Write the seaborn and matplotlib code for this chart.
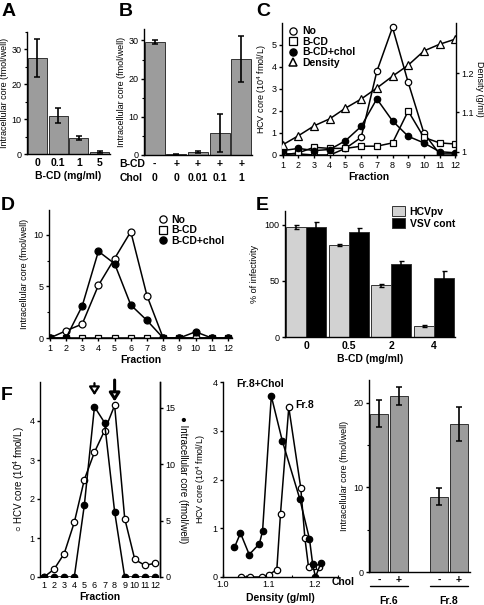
import numpy as np
import pandas as pd
import matplotlib
matplotlib.use("Agg")
import matplotlib.pyplot as plt
import seaborn as sns
from matplotlib.lines import Line2D
from matplotlib.patches import Patch
from matplotlib.ticker import MultipleLocator

# ---- data ----
# A
a_dose = ["0", "0.1", "1", "5"]
a_core = [27.5, 11.0, 4.6, 0.6]
a_err = [5.5, 2.2, 0.6, 0.3]

# B
b_bcd = ["-", "+", "+", "+", "+"]
b_chol = ["0", "0", "0.01", "0.1", "1"]
b_core = [29.5, 0.2, 0.8, 5.8, 25.2]
b_err = [0.5, 0.1, 0.3, 5.0, 6.0]

# C
fractions = list(range(1, 13))
c_no = [0.05, 0.05, 0.0, 0.0, 0.3, 0.8, 3.8, 5.8, 3.3, 1.0, 0.05, 0.05]
c_bcd = [0.0, 0.1, 0.35, 0.3, 0.3, 0.4, 0.4, 0.55, 2.0, 0.8, 0.55, 0.5]
c_chol = [0.2, 0.3, 0.2, 0.25, 0.65, 1.3, 2.55, 1.55, 0.85, 0.55, 0.15, 0.1]
c_density = [1.018, 1.041, 1.066, 1.084, 1.111, 1.134, 1.162, 1.192, 1.220, 1.256, 1.273, 1.286]

# D
d_no = [0, 0.7, 1.35, 5.1, 7.7, 10.3, 4.1, 0, 0, 0, 0, 0]
d_bcd = [0] * 12
d_chol = [0, 0, 3.1, 8.4, 7.2, 3.2, 1.7, 0, 0, 0.6, 0, 0]

# E
e_dose = ["0", "0.5", "2", "4"]
e_hcv = [98, 82, 46, 10]
e_hcv_err = [2, 1, 1.5, 1]
e_vsv = [98, 93.5, 65.5, 53]
e_vsv_err = [5, 4, 2, 6]

# F left
f_no = [0, 0.2, 0.6, 1.4, 2.5, 3.2, 3.75, 4.4, 1.5, 0.45, 0.3, 0.35]
f_cell = [0, 0, 0, 0, 6.4, 15.1, 13.7, 5.8, 0, 0, 0, 0]

# F middle
chol_density = [1.025, 1.038, 1.057, 1.079, 1.086, 1.105, 1.129, 1.167, 1.188, 1.195, 1.201, 1.213]
chol_core = [0.61, 0.90, 0.46, 0.68, 0.94, 3.71, 2.79, 1.60, 0.78, 0.26, 0.0, 0.29]
fr8_density = [1.040, 1.058, 1.084, 1.100, 1.117, 1.125, 1.143, 1.169, 1.178, 1.186, 1.198, 1.209]
fr8_core = [0.0, 0.0, 0.0, 0.05, 0.15, 1.3, 3.48, 1.83, 0.8, 0.2, 0.22, 0.2]

# F right
fr_pos = [0, 1, 3, 4]
fr_sign = ["-", "+", "-", "+"]
fr_core = [18.7, 20.8, 8.9, 17.5]
fr_err = [1.6, 1.1, 1.0, 2.0]

# ---- style ----
sns.set_style("ticks")
plt.rcParams['font.family'] = ['Liberation Sans', 'DejaVu Sans']
plt.rcParams.update({
    'font.size': 7, 'axes.linewidth': 1.0, 'axes.edgecolor': 'black',
    'text.color': 'black', 'axes.labelcolor': 'black',
    'xtick.color': 'black', 'ytick.color': 'black',
    'xtick.major.size': 2.5, 'ytick.major.size': 2.5,
    'xtick.minor.size': 1.8, 'ytick.minor.size': 1.8,
    'xtick.major.width': 1.0, 'ytick.major.width': 1.0,
    'ytick.minor.width': 0.8, 'xtick.minor.width': 0.8,
    'xtick.labelsize': 6.5, 'ytick.labelsize': 6.5,
    'xtick.major.pad': 2, 'ytick.major.pad': 1.5,
    'axes.labelsize': 6.5,
    'mathtext.fontset': 'custom', 'mathtext.rm': 'Liberation Sans',
})

W, H = 484, 605
fig = plt.figure(figsize=(4.84, 6.05), dpi=100)


def box(l, t, r, b):
    return [l / W, 1 - b / H, (r - l) / W, (b - t) / H]


BAR_GREY = '#9c9c9c'
line_kw = dict(color='black', lw=1.1, sort=False, mew=0.9, mec='black')
MS = 4.6


def bars(ax, cats, vals, errs):
    df = pd.DataFrame({'cat': cats, 'val': vals})
    sns.barplot(data=df, x='cat', y='val', color=BAR_GREY, saturation=1, width=0.92,
                errorbar=None, edgecolor='#333333', linewidth=0.7, ax=ax)
    ax.errorbar(range(len(vals)), vals, yerr=errs, fmt='none', ecolor='black',
                elinewidth=1.2, capsize=2, capthick=1.1)
    ax.set_xlim(-0.5, len(vals) - 0.5)
    ax.tick_params(axis='x', length=0, pad=3)
    for t in ax.get_xticklabels():
        t.set_fontweight('bold')
        t.set_fontsize(7.5)
    sns.despine(ax=ax)


# ---- A ----
ax = fig.add_axes(box(27, 32, 110, 154))
bars(ax, a_dose, a_core, a_err)
ax.set_ylim(0, 35)
ax.yaxis.set_major_locator(MultipleLocator(10))
ax.yaxis.set_minor_locator(MultipleLocator(5))
ax.set_xlabel('B-CD (mg/ml)', fontweight='bold', fontsize=7.5, labelpad=2)
ax.set_ylabel('Intracellular core (fmol/well)', labelpad=2)

# ---- B ----
ax = fig.add_axes(box(144, 29, 252, 155))
bars(ax, [f"{p}\n{c}" for p, c in zip(b_bcd, b_chol)], b_core, b_err)
for t in ax.get_xticklabels():
    t.set_linespacing(1.45)
ax.set_ylim(0, 33)
ax.yaxis.set_major_locator(MultipleLocator(10))
ax.yaxis.set_minor_locator(MultipleLocator(5))
ax.set_xlabel('')
ax.set_ylabel('Intracellular core (fmol/well)', labelpad=2)
ax.text(-0.23, -0.075, 'B-CD', transform=ax.transAxes, fontweight='bold', fontsize=7.5, va='center')
ax.text(-0.23, -0.18, 'Chol', transform=ax.transAxes, fontweight='bold', fontsize=7.5, va='center')

# ---- C ----
ax = fig.add_axes(box(282, 23, 456, 155))
sns.lineplot(x=fractions, y=c_no, marker='o', mfc='white', ms=MS, ax=ax, **line_kw)
sns.lineplot(x=fractions, y=c_bcd, marker='s', mfc='white', ms=MS, ax=ax, **line_kw)
sns.lineplot(x=fractions, y=c_chol, marker='o', mfc='black', ms=MS, ax=ax, **line_kw)
ax.set_xlim(0.95, 12.05)
ax.set_ylim(0, 6)
ax.set_xticks(fractions)
ax.set_yticks(range(6))
ax.set_xlabel('Fraction', fontweight='bold', fontsize=7.5, labelpad=1)
ax.set_ylabel('HCV core (10$^4$ fmol/L)', labelpad=2)
ax2 = ax.twinx()
sns.lineplot(x=fractions, y=c_density, marker='^', mfc='white', ms=5.2, ax=ax2, **line_kw)
ax2.set_ylim(0.992, 1.327)
ax2.set_yticks([1.0, 1.1, 1.2], ['1', '1.1', '1.2'])
ax2.set_ylabel('Density (g/ml)', rotation=270, labelpad=7, fontsize=6.5)
for a in (ax, ax2):
    a.spines['top'].set_visible(False)
ax.spines['right'].set_visible(False)
ax2.spines['left'].set_visible(False)
ax2.spines['bottom'].set_visible(False)
handles = [
    Line2D([], [], ls='none', marker='o', mfc='white', mec='black', ms=5.2, mew=0.9),
    Line2D([], [], ls='none', marker='s', mfc='white', mec='black', ms=5.2, mew=0.9),
    Line2D([], [], ls='none', marker='o', mfc='black', mec='black', ms=5.2, mew=0.9),
    Line2D([], [], ls='none', marker='^', mfc='white', mec='black', ms=6, mew=1.1),
]
ax2.legend(handles, ['No', 'B-CD', 'B-CD+chol', 'Density'], loc='upper left',
           bbox_to_anchor=(0.0, 1.03), frameon=False, handlelength=0.8,
           handletextpad=0.4, labelspacing=0.05, borderpad=0.2,
           prop={'weight': 'bold', 'size': 7.5})

# ---- D ----
ax = fig.add_axes(box(49, 210, 232, 338))
sns.lineplot(x=fractions, y=d_bcd, marker='s', mfc='white', ms=MS, ax=ax, **line_kw)
sns.lineplot(x=fractions, y=d_no, marker='o', mfc='white', ms=5, ax=ax, **line_kw)
sns.lineplot(x=fractions, y=d_chol, marker='o', mfc='black', ms=5, ax=ax, **line_kw)
ax.set_xlim(0.95, 12.25)
ax.set_ylim(0, 12.4)
ax.set_xticks(fractions)
ax.yaxis.set_major_locator(MultipleLocator(5))
ax.yaxis.set_minor_locator(MultipleLocator(2.5))
ax.set_xlabel('Fraction', fontweight='bold', fontsize=7.5, labelpad=1)
ax.set_ylabel('Intracellular core (fmol/well)', labelpad=3)
sns.despine(ax=ax)
ax.legend(handles[:3], ['No', 'B-CD', 'B-CD+chol'], loc='upper right',
          bbox_to_anchor=(1.0, 1.02), frameon=False, handlelength=0.8,
          handletextpad=0.4, labelspacing=0.05, borderpad=0.2,
          prop={'weight': 'bold', 'size': 7.5})

# ---- E ----
ax = fig.add_axes(box(285, 211, 455, 337))
e_df = pd.DataFrame({
    'dose': e_dose * 2,
    'val': e_hcv + e_vsv,
    'series': ['HCVpv'] * 4 + ['VSV cont'] * 4,
})
sns.barplot(data=e_df, x='dose', y='val', hue='series', palette={'HCVpv': '#d2d2d2', 'VSV cont': 'black'},
            saturation=1, width=0.95, errorbar=None, edgecolor='#333333', linewidth=0.7, ax=ax)
conts = list(ax.containers)
for cont, errs in zip(conts, [e_hcv_err, e_vsv_err]):
    xs = [b.get_x() + b.get_width() / 2 for b in cont]
    ys = [b.get_height() for b in cont]
    ax.errorbar(xs, ys, yerr=errs, fmt='none', ecolor='black', elinewidth=1.1, capsize=1.8, capthick=1.0)
ax.set_xlim(-0.5, 3.5)
ax.set_ylim(0, 112.5)
ax.yaxis.set_major_locator(MultipleLocator(50))
ax.tick_params(axis='x', length=0, pad=3)
for t in ax.get_xticklabels():
    t.set_fontweight('bold')
    t.set_fontsize(7.5)
ax.set_xlabel('B-CD (mg/ml)', fontweight='bold', fontsize=7.5, labelpad=2)
ax.set_ylabel('% of infectivity', labelpad=4)
sns.despine(ax=ax)
ax.legend([Patch(fc='#d2d2d2', ec='#333333', lw=0.7), Patch(fc='black', ec='#333333', lw=0.7)],
          ['HCVpv', 'VSV cont'], loc='upper right', bbox_to_anchor=(1.03, 1.08), frameon=False,
          handlelength=1.3, handleheight=1.1, handletextpad=0.4, labelspacing=0.15, borderpad=0,
          prop={'weight': 'bold', 'size': 7.5})

# ---- F left ----
ax = fig.add_axes(box(40, 382, 160, 577))
sns.lineplot(x=fractions, y=f_no, marker='o', mfc='white', ms=MS, ax=ax, **line_kw)
ax.set_xlim(0.6, 12.5)
ax.set_ylim(0, 5)
ax.set_xticks(fractions)
ax.tick_params(axis='x', length=0, pad=3)
ax.set_yticks(range(5))
ax.set_xlabel('Fraction', fontweight='bold', fontsize=7.5, labelpad=1)
ax.set_ylabel('○ HCV core (10$^4$ fmol/L)', labelpad=2, fontsize=7)
ax.spines['top'].set_visible(False)
ax.spines['bottom'].set_visible(False)
axr = ax.twinx()
sns.lineplot(x=fractions, y=f_cell, marker='o', mfc='black', ms=MS, ax=axr, **line_kw)
axr.set_ylim(0, 17.3)
axr.yaxis.set_major_locator(MultipleLocator(5))
axr.set_ylabel('● Intracellular core (fmol/well)', rotation=270, labelpad=9, fontsize=7)
for s in ('top', 'bottom', 'left'):
    axr.spines[s].set_visible(False)
# arrows marking fractions 6 and 8
ax.annotate('', xy=(6, 4.66), xytext=(6, 4.97), annotation_clip=False,
            arrowprops=dict(arrowstyle='-|>,head_length=0.7,head_width=0.45', fc='white', ec='black',
                            lw=1.6, shrinkA=0, shrinkB=0))
ax.annotate('', xy=(8, 4.5), xytext=(8, 5.05), annotation_clip=False,
            arrowprops=dict(arrowstyle='-|>,head_length=0.7,head_width=0.45', fc='white', ec='black',
                            lw=2.2, shrinkA=0, shrinkB=0))

# ---- F middle ----
ax = fig.add_axes(box(223, 382, 338, 577))
sns.lineplot(x=fr8_density, y=fr8_core, marker='o', mfc='white', ms=MS, ax=ax, **line_kw)
sns.lineplot(x=chol_density, y=chol_core, marker='o', mfc='black', ms=MS, ax=ax, **line_kw)
ax.set_xlim(1.0, 1.25)
ax.set_ylim(0, 4)
ax.set_xticks([1.0, 1.1, 1.2])
ax.xaxis.set_minor_locator(MultipleLocator(0.05))
ax.tick_params(axis='x', which='both', direction='in')
ax.set_yticks(range(5))
ax.set_xlabel('Density (g/ml)', fontweight='bold', fontsize=7.5, labelpad=3)
ax.set_ylabel('HCV core (10$^4$ fmol/L)', labelpad=3)
sns.despine(ax=ax)
ax.text(1.08, 3.95, 'Fr.8+Chol', fontweight='bold', fontsize=7.5, ha='center', va='center')
ax.text(1.156, 3.53, 'Fr.8', fontweight='bold', fontsize=7.5, ha='left', va='center')

# ---- F right ----
ax = fig.add_axes(box(369, 380, 470, 572))
sns.barplot(x=fr_pos, y=fr_core, native_scale=True, color=BAR_GREY, saturation=1, width=0.88,
            errorbar=None, edgecolor='#333333', linewidth=0.7, ax=ax)
ax.errorbar(fr_pos, fr_core, yerr=fr_err, fmt='none', ecolor='black', elinewidth=1.2, capsize=2, capthick=1.1)
ax.set_xlim(-0.5, 4.55)
ax.set_ylim(0, 22.7)
ax.yaxis.set_major_locator(MultipleLocator(10))
ax.yaxis.set_minor_locator(MultipleLocator(5))
ax.set_xticks(fr_pos, fr_sign)
ax.tick_params(axis='x', length=0, pad=2)
for t in ax.get_xticklabels():
    t.set_fontweight('bold')
    t.set_fontsize(7.5)
ax.set_ylabel('Intracellular core (fmol/well)', labelpad=3)
sns.despine(ax=ax)
ax.text(-0.14, -0.05, 'Chol', transform=ax.transAxes, fontweight='bold', fontsize=7.5, ha='right', va='center')
for lo, hi, name in [(0, 1, 'Fr.6'), (3, 4, 'Fr.8')]:
    ax.plot([lo - 0.45, hi + 0.45], [-1.7, -1.7], color='black', lw=1.0, clip_on=False)
    ax.text((lo + hi) / 2, -3.4, name, fontweight='bold', fontsize=7.5, ha='center', va='center')

# ---- panel letters ----
for lbl, x, y in [('A', 2, 3), ('B', 119, 3), ('C', 256, 3), ('D', 1, 197), ('E', 256, 197), ('F', 1, 387)]:
    fig.text(x / W, 1 - y / H, lbl, fontsize=14, fontweight='bold', va='top', ha='left')

fig.savefig('out.png', dpi=100)
